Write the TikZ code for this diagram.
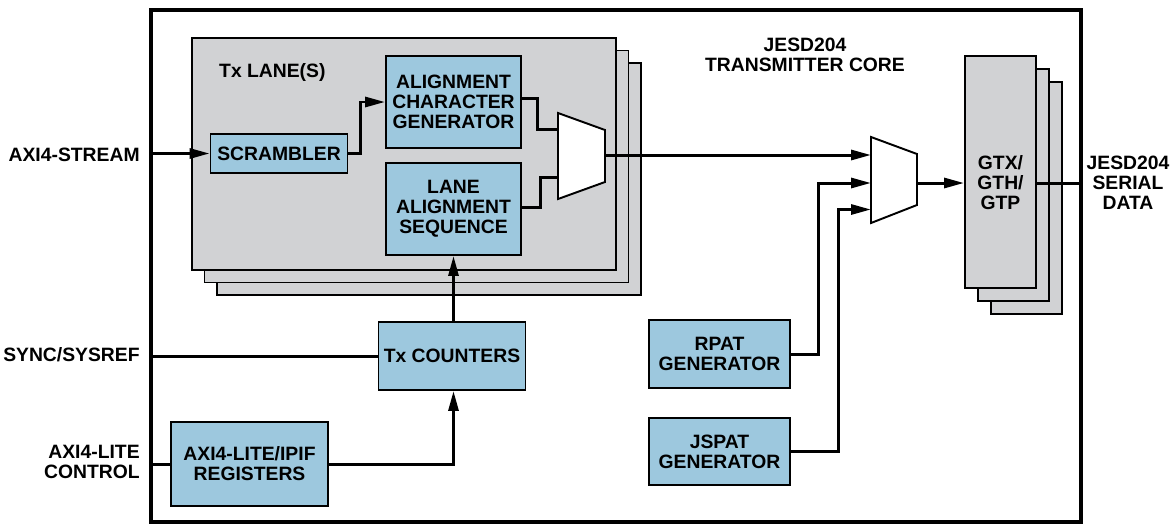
\documentclass[tikz,border=0pt]{standalone}
\usepackage{fontspec}
\setmainfont{Liberation Sans}
\usetikzlibrary{arrows.meta, positioning}

\definecolor{blockblue}{RGB}{157,200,222}
\definecolor{lanegray}{RGB}{209,210,212}

\begin{document}
\begin{tikzpicture}[
  x=0.02cm, y=-0.02cm,
  font=\fontsize{11}{11.4}\selectfont\bfseries,
  block/.style={rectangle, draw, line width=1.1pt, fill=blockblue, align=center, inner sep=1pt},
  stack/.style={rectangle, draw, line width=1.1pt, fill=lanegray},
  mux/.style={draw, line width=1.1pt, fill=white, line join=miter},
  wire/.style={line width=1.7pt},
  arr/.style={wire, -{Triangle[length=4mm, width=2mm]}},
  port/.style={align=right, anchor=east, inner sep=0pt},
]
\useasboundingbox (0,0) rectangle (1173,525);

% core frame
\node[draw, line width=2.3pt, minimum width=18.6cm, minimum height=10.24cm] (core) at (616,266) {};
\node[align=center] (corelbl) at (805,55) {JESD204\\TRANSMITTER CORE};

% lane stack
\foreach \d in {25,12.5}
  \draw[stack] (192+\d,38+\d) rectangle ++(424,232);
\node[stack, minimum width=8.48cm, minimum height=4.64cm] (lane) at (404,154) {};
\node[anchor=west] (lanelbl) at (213,72) {Tx LANE(S)};

% transceiver stack
\foreach \d in {26,13}
  \draw[stack] (965+\d,56+\d) rectangle ++(71,232);
\node[stack, minimum width=1.42cm, minimum height=4.64cm] (gtx) at (1000.5,172) {};
\node[align=center] (gtxlbl) at (1000.5,183) {GTX/\\GTH/\\GTP};

% blocks
\node[block, minimum width=2.74cm, minimum height=0.78cm] (scr) at (279,153.5) {SCRAMBLER};
\node[block, minimum width=2.7cm, minimum height=1.84cm] (acg) at (453.5,102) {ALIGNMENT\\CHARACTER\\GENERATOR};
\node[block, minimum width=2.7cm, minimum height=1.84cm] (las) at (453.5,209) {LANE\\ALIGNMENT\\SEQUENCE};
\node[block, minimum width=2.94cm, minimum height=1.36cm] (txc) at (452,356) {Tx COUNTERS};
\node[block, minimum width=3.14cm, minimum height=1.68cm] (reg) at (249.5,464) {AXI4-LITE/IPIF\\REGISTERS};
\node[block, minimum width=2.82cm, minimum height=1.36cm] (rpat) at (719.5,354) {RPAT\\GENERATOR};
\node[block, minimum width=2.82cm, below=0.56cm of rpat, minimum height=1.34cm] (jspat) {JSPAT\\GENERATOR};

% muxes
\draw[mux] (558,113) -- (605,130) -- (605,182) -- (558,199) -- cycle;
\coordinate (m1a) at (558,129);
\coordinate (m1b) at (558,177);
\coordinate (m1o) at (605,155);
\draw[mux] (871,137) -- (917,154) -- (917,205) -- (871,223) -- cycle;
\coordinate (m2a) at (871,155);
\coordinate (m2b) at (871,183);
\coordinate (m2c) at (871,209.5);
\coordinate (m2o) at (917,183);

% ports
\node[port] (axis) at (140,155) {AXI4-STREAM};
\node[port] (sync) at (140,355) {SYNC/SYSREF};
\node[port] (axil) at (140,462) {AXI4-LITE\\CONTROL};
\node[align=center] (serial) at (1128,183) {JESD204\\SERIAL\\DATA};

% connections
\draw[arr] (core.west |- scr) -- (scr.west);
\draw[arr] (scr.east) -- ++(12,0) |- (acg.west);
\draw[wire] ([yshift=0.08cm]acg.east) -- ++(16,0) |- (m1a);
\draw[wire] ([yshift=0.03cm]las.east) -- ++(19,0) |- (m1b);
\draw[arr] (m1o) -- (m2a);
\draw[arr] (rpat.east) -- ++(28,0) |- (m2b);
\draw[arr] (jspat.east) -- ++(48,0) |- (m2c);
\draw[arr] (m2o) -- (gtx.west |- m2o);
\draw[wire] (gtx.east |- gtxlbl) -- (core.east |- gtxlbl);
\draw[wire] (core.west |- txc) -- (txc.west);
\draw[arr] (txc.north -| las.south) -- (las.south);
\draw[wire] (core.west |- reg) -- (reg.west);
\draw[arr] (reg.east) -| (las.south |- txc.south);
\end{tikzpicture}
\end{document}
